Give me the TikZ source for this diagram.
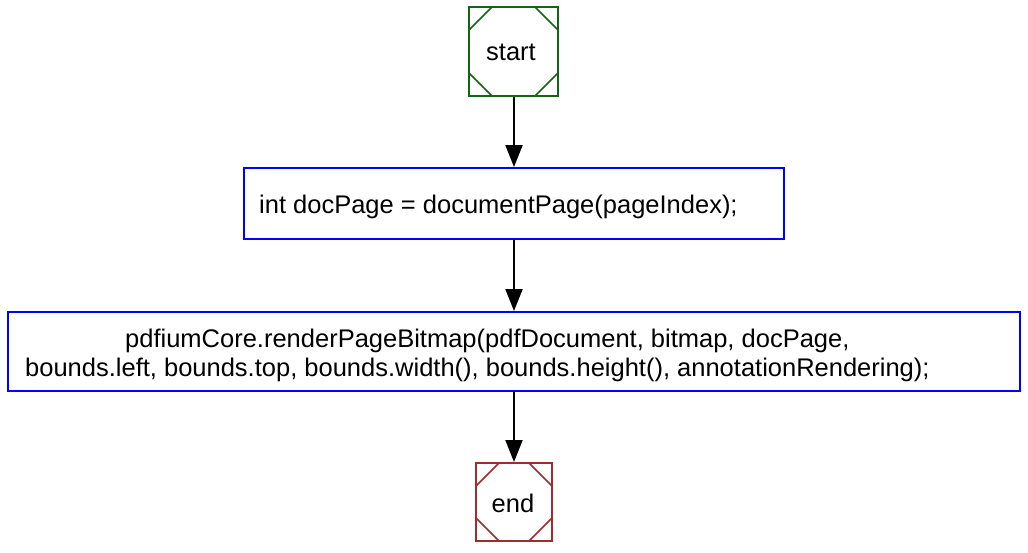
\documentclass[tikz,border=0pt]{standalone}
\usepackage{fontspec}
\setmainfont{Liberation Sans}
\usetikzlibrary{arrows.meta}
\definecolor{startgreen}{RGB}{20,100,20}
\definecolor{endred}{RGB}{160,45,45}
\definecolor{boxblue}{RGB}{0,0,255}
\tikzset{
  cornercut/.style={path picture={
    \def\cc{23pt}
    \draw[line width=1.6pt,#1]
      ([yshift=-\cc]path picture bounding box.north west) -- ([xshift=\cc]path picture bounding box.north west)
      ([yshift=-\cc]path picture bounding box.north east) -- ([xshift=-\cc]path picture bounding box.north east)
      ([yshift=\cc]path picture bounding box.south west) -- ([xshift=\cc]path picture bounding box.south west)
      ([yshift=\cc]path picture bounding box.south east) -- ([xshift=-\cc]path picture bounding box.south east);
  }},
  terminal/.style={draw=#1, line width=2pt, rectangle, inner sep=0pt, cornercut=#1},
  procbox/.style={draw=boxblue, line width=2pt, rectangle, inner sep=0pt},
  txt/.style={font=\fontsize{25.5pt}{29pt}\selectfont, inner sep=0pt, anchor=base west},
  flow/.style={line width=2pt, -{Triangle[length=22pt,width=17pt]}},
}
\begin{document}
\begin{tikzpicture}[x=1pt,y=-1pt]
\useasboundingbox (0,0) rectangle (1028,552);
\node[terminal=startgreen, minimum width=89pt, minimum height=89pt] (start) at (513.5,51.5) {};
\node[font=\fontsize{25.5pt}{29pt}\selectfont, inner sep=0pt, anchor=base] (starttxt) at (511,60) {start};
\node[procbox, minimum width=540pt, minimum height=71pt] (b1) at (514,203.5) {};
\node[txt] (t1) at (259,213) {int docPage = documentPage(pageIndex);};
\node[procbox, minimum width=1012pt, minimum height=79pt] (b2) at (514,351.5) {};
\node[txt] (t2a) at (125,347) {pdfiumCore.renderPageBitmap(pdfDocument, bitmap, docPage,};
\node[txt] (t2b) at (25,376) {bounds.left, bounds.top, bounds.width(), bounds.height(), annotationRendering);};
\node[terminal=endred, minimum width=76pt, minimum height=78pt] (end) at (514,502) {};
\node[font=\fontsize{25.5pt}{29pt}\selectfont, inner sep=0pt, anchor=base] (endtxt) at (513,512) {end};
\draw[flow] (start.south -| b1.north) -- (b1.north);
\draw[flow] (b1) -- (b2);
\draw[flow] (b2) -- (end);
\end{tikzpicture}
\end{document}
